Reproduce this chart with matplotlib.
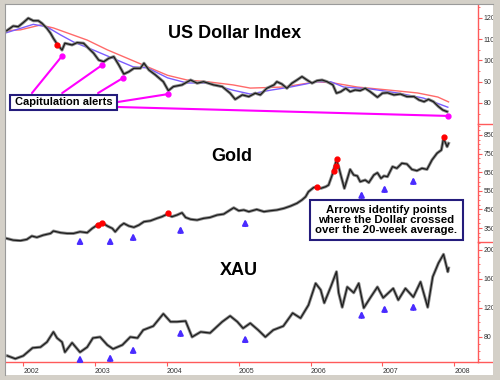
import matplotlib
matplotlib.use("Agg")
import matplotlib.pyplot as plt
from matplotlib.patches import Rectangle
from matplotlib.lines import Line2D

plt.rcParams['font.family'] = ['Liberation Sans', 'DejaVu Sans']

# US Dollar Index (x = decimal year)
usd_t = [2001.77, 2001.86, 2001.93, 2002.00, 2002.07, 2002.14, 2002.21, 2002.26, 2002.33,
         2002.38, 2002.42, 2002.48, 2002.54, 2002.58, 2002.68, 2002.75, 2002.84, 2002.91,
         2002.98, 2003.05, 2003.12, 2003.19, 2003.26, 2003.33, 2003.40, 2003.47, 2003.54,
         2003.63, 2003.68, 2003.75, 2003.84, 2003.95, 2004.02, 2004.09, 2004.21, 2004.33,
         2004.42, 2004.51, 2004.65, 2004.77, 2004.88, 2004.95, 2005.05, 2005.14, 2005.23,
         2005.30, 2005.39, 2005.49, 2005.53, 2005.60, 2005.67, 2005.74, 2005.81, 2005.88,
         2005.95, 2006.02, 2006.09, 2006.16, 2006.23, 2006.31, 2006.36, 2006.42, 2006.49,
         2006.55, 2006.62, 2006.69, 2006.76, 2006.83, 2006.93, 2007.00, 2007.07, 2007.16,
         2007.25, 2007.34, 2007.44, 2007.51, 2007.58, 2007.64, 2007.71, 2007.78, 2007.84,
         2007.90]
usd_v = [114.0, 116.2, 115.9, 117.8, 119.9, 118.7, 118.7, 117.5, 115.1,
         112.8, 110.4, 107.3, 104.9, 108.1, 107.3, 108.4, 108.1, 105.7,
         103.4, 100.2, 99.4, 101.0, 101.8, 97.9, 93.6, 94.7, 96.3,
         96.3, 98.7, 95.5, 93.2, 90.0, 85.8, 87.7, 88.5, 90.8,
         89.3, 90.0, 88.5, 87.7, 84.6, 81.7, 83.8, 83.0, 84.6,
         83.8, 86.9, 88.5, 90.0, 88.9, 86.9, 89.3, 90.8, 92.4,
         90.8, 89.3, 90.5, 90.8, 90.0, 88.5, 84.6, 85.3, 86.9,
         85.3, 86.1, 85.8, 86.9, 85.3, 82.7, 84.6, 84.8, 83.8,
         84.2, 83.0, 83.0, 81.4, 80.6, 81.7, 80.6, 78.3, 76.7,
         75.9]

# 20-week average (blue) and longer average (red)
ma20_t = [2001.76, 2002.14, 2002.33, 2002.52, 2002.70, 2002.97, 2003.25, 2003.53, 2003.73,
          2004.01, 2004.28, 2004.56, 2004.92, 2005.16, 2005.44, 2005.72, 2006.09, 2006.28,
          2006.46, 2006.83, 2007.21, 2007.57, 2007.91]
ma20_v = [113, 117, 115.8, 112, 108.7, 105, 101, 97, 96.5,
          91.8, 89.4, 89.4, 86, 84.2, 86, 87.5, 90, 90,
          87.5, 86.6, 84.7, 82.3, 78]
ma40_t = [2001.76, 2001.96, 2002.24, 2002.42, 2002.61, 2002.89, 2003.17, 2003.45, 2003.73,
          2004.01, 2004.28, 2004.56, 2004.92, 2005.16, 2005.62, 2006.09, 2006.32, 2006.65,
          2007.11, 2007.49, 2007.77, 2007.92]
ma40_v = [114, 114.4, 116.7, 115.3, 113, 109.6, 105, 101, 97,
          93, 90.8, 90, 88.5, 87, 87.5, 90, 89.4, 87.5,
          86, 84.7, 82.8, 80.5]

# capitulation alerts
alert_t = [2002.54, 2003.10, 2003.39, 2004.02, 2007.91]
alert_v = [102.1, 97.9, 91.8, 84.2, 73.9]
usd_red_t = [2002.47]
usd_red_v = [107.3]

# Gold
gold_t = [2001.77, 2001.86, 2001.96, 2002.05, 2002.12, 2002.19, 2002.28, 2002.38, 2002.42,
          2002.52, 2002.61, 2002.70, 2002.79, 2002.89, 2002.96, 2003.03, 2003.10, 2003.17,
          2003.24, 2003.28, 2003.35, 2003.40, 2003.47, 2003.54, 2003.61, 2003.68, 2003.77,
          2003.86, 2003.93, 2004.00, 2004.07, 2004.14, 2004.21, 2004.26, 2004.33, 2004.42,
          2004.51, 2004.60, 2004.70, 2004.79, 2004.88, 2004.93, 2005.00, 2005.07, 2005.14,
          2005.25, 2005.35, 2005.44, 2005.53, 2005.63, 2005.72, 2005.81, 2005.88, 2005.93,
          2005.97, 2006.04, 2006.09, 2006.14, 2006.21, 2006.25, 2006.30, 2006.32, 2006.36,
          2006.39, 2006.42, 2006.47, 2006.52, 2006.55, 2006.60, 2006.65, 2006.69, 2006.76,
          2006.81, 2006.88, 2006.93, 2006.98, 2007.02, 2007.07, 2007.14, 2007.20, 2007.27,
          2007.34, 2007.41, 2007.48, 2007.55, 2007.62, 2007.69, 2007.76, 2007.82, 2007.85,
          2007.90, 2007.92]
gold_v = [294, 285, 282, 289, 307, 300, 312, 321, 334,
          325, 321, 321, 330, 325, 348, 366, 379, 361,
          348, 330, 361, 375, 361, 354, 366, 384, 389,
          402, 411, 424, 411, 420, 432, 407, 397, 393,
          402, 407, 420, 425, 447, 459, 443, 447, 438,
          450, 438, 443, 447, 456, 468, 483, 501, 518,
          545, 567, 572, 563, 572, 581, 635, 662, 716,
          680, 635, 563, 626, 665, 635, 630, 599, 608,
          594, 635, 647, 617, 630, 626, 680, 671, 698,
          694, 665, 658, 671, 665, 716, 752, 769, 832,
          787, 805]
gold_red_t = [2003.04, 2003.10, 2004.02, 2006.09, 2006.32, 2006.35, 2006.37, 2007.85]
gold_red_v = [366, 377, 431, 570, 656, 683, 721, 839]

# dates where the dollar crossed over its 20-week average
cross_t = [2002.79, 2003.21, 2003.53, 2004.19, 2005.09, 2006.71, 2007.03, 2007.43]
gold_arrow_v = [301, 301, 323, 361, 398, 549, 581, 624]

# XAU
xau_t = [2001.78, 2001.89, 2002.00, 2002.13, 2002.24, 2002.33, 2002.42, 2002.47, 2002.54,
         2002.58, 2002.68, 2002.79, 2002.89, 2002.97, 2003.07, 2003.17, 2003.25, 2003.38,
         2003.49, 2003.59, 2003.67, 2003.81, 2003.95, 2004.05, 2004.14, 2004.26, 2004.35,
         2004.47, 2004.60, 2004.77, 2004.88, 2004.98, 2005.06, 2005.16, 2005.27, 2005.37,
         2005.48, 2005.62, 2005.75, 2005.86, 2005.97, 2006.07, 2006.14, 2006.19, 2006.28,
         2006.36, 2006.39, 2006.44, 2006.51, 2006.60, 2006.67, 2006.74, 2006.83, 2006.93,
         2007.01, 2007.15, 2007.22, 2007.32, 2007.43, 2007.53, 2007.63, 2007.70, 2007.78,
         2007.85, 2007.91, 2007.92]
xau_v = [54, 50, 54, 65, 66, 73, 87, 78.6, 73,
         59, 72, 59, 66, 78.6, 80, 69, 63.5, 69,
         80, 78.6, 89.6, 95, 112, 101, 101, 102, 80,
         87, 85.5, 101, 109, 101, 92, 99, 89.6, 80,
         89.6, 95, 113, 106, 124, 154, 145, 127, 149,
         170, 141, 121, 149, 141, 154, 120, 134, 149,
         134, 147, 131, 147, 135, 156, 121, 163, 182,
         194, 170, 175]
xau_arrow_v = [55, 56.5, 67.5, 91, 82.5, 116, 124, 127]

years = [2002, 2003, 2004, 2005, 2006, 2007, 2008]

usd_ticks = [80, 90, 100, 110, 120]
gold_ticks = [350, 450, 550, 650, 750, 850]
xau_ticks = [80, 120, 160, 200]

AXRED = '#ff5a5a'
ARROW = '#4a2cff'
MAG = '#ff00ff'
NAVY = '#241c7c'

fig = plt.figure(figsize=(5, 3.8), dpi=100)
fig.patch.set_facecolor('white')

W, H = 500.0, 380.0
def panel(top, bottom):
    return fig.add_axes([6 / W, 1 - bottom / H, 472 / W, (bottom - top) / H])

def price(ax, t, v):
    # weekly bars look: grey body with a dark core
    ax.plot(t, v, color='#8a8a8a', lw=2.2, zorder=4)
    ax.plot(t, v, color='#1c1c1c', lw=0.9, zorder=4.5)

def up_arrows(ax, t, v):
    for tt, vv in zip(t, v):
        ax.annotate('', xy=(tt, vv), xytext=(0, -5), textcoords='offset points',
                    arrowprops=dict(arrowstyle='-|>', color=ARROW, lw=1.5, mutation_scale=8,
                                    shrinkA=0, shrinkB=0))

ax1 = panel(5, 124)
ax2 = panel(124, 242)
ax3 = panel(242, 362)

for ax, lim, ticks, minor in [(ax1, (70.1, 126.1), usd_ticks, 5),
                              (ax2, (275, 909), gold_ticks, 25),
                              (ax3, (45.5, 211), xau_ticks, 10)]:
    ax.set_xlim(2001.76, 2008.33)
    ax.set_ylim(*lim)
    ax.set_facecolor('none')
    for s in ['left', 'top', 'bottom']:
        ax.spines[s].set_visible(False)
    ax.spines['right'].set_color(AXRED)
    ax.spines['right'].set_linewidth(1)
    ax.yaxis.tick_right()
    ax.set_yticks(ticks)
    ax.set_yticklabels([str(t) for t in ticks])
    ax.yaxis.set_minor_locator(matplotlib.ticker.MultipleLocator(minor))
    ax.tick_params(axis='y', which='major', colors=AXRED, length=3, width=0.8,
                   labelsize=5, labelcolor='#333333', pad=1)
    ax.tick_params(axis='y', which='minor', colors=AXRED, length=1.5, width=0.6)
    ax.set_xticks(years)
    ax.tick_params(axis='x', which='both', bottom=False, labelbottom=False)

# --- US Dollar Index ---
ax1.plot(ma40_t, ma40_v, color='#ff6a6a', lw=1.0, zorder=2)
ax1.plot(ma20_t, ma20_v, color='#7b5cff', lw=1.0, zorder=3)
price(ax1, usd_t, usd_v)
ax1.plot(usd_red_t, usd_red_v, 'o', color='red', ms=3.5, zorder=5)

box_pts = [(0.055, 0.26), (0.119, 0.26), (0.195, 0.26), (0.237, 0.185), (0.235, 0.143)]
for (bx, by), t, v in zip(box_pts, alert_t, alert_v):
    ax1.annotate('', xy=(t, v), xytext=(bx, by), textcoords='axes fraction',
                 arrowprops=dict(arrowstyle='-', color=MAG, lw=1.5, shrinkA=0, shrinkB=0),
                 zorder=6)
ax1.plot(alert_t, alert_v, 'o', color=MAG, ms=3.5, zorder=7)
ax1.add_patch(Rectangle((0.0085, 0.118), 0.2265, 0.126, transform=ax1.transAxes,
                        facecolor='white', edgecolor=NAVY, lw=1.5, zorder=8))
ax1.text(0.122, 0.181, 'Capitulation alerts', transform=ax1.transAxes, ha='center',
         va='center', fontsize=8, fontweight='bold', color='black', zorder=9)

# --- Gold ---
price(ax2, gold_t, gold_v)
ax2.plot(gold_red_t, gold_red_v, 'o', color='red', ms=3.5, zorder=5)
up_arrows(ax2, cross_t, gold_arrow_v)
ax2.add_patch(Rectangle((0.644, 0.017), 0.324, 0.339, transform=ax2.transAxes,
                        facecolor='white', edgecolor=NAVY, lw=1.5, zorder=8))
ax2.text(0.806, 0.186, 'Arrows identify points\nwhere the Dollar crossed\nover the 20-week average.',
         transform=ax2.transAxes, ha='center', va='center', fontsize=8.2,
         fontweight='bold', linespacing=0.95, zorder=9)

# --- XAU ---
price(ax3, xau_t, xau_v)
up_arrows(ax3, cross_t, xau_arrow_v)
ax3.spines['bottom'].set_visible(True)
ax3.spines['bottom'].set_color(AXRED)
ax3.spines['bottom'].set_linewidth(1)
ax3.set_xticklabels([str(y) for y in years])
ax3.tick_params(axis='x', which='both', bottom=True, labelbottom=True, colors=AXRED,
                length=3, width=0.8, labelsize=5, labelcolor='#333333', pad=1)
for lab in ax3.get_xticklabels():
    lab.set_horizontalalignment('left')

# panel titles
fig.text(0.47, 0.913, 'US Dollar Index', ha='center', va='center', fontsize=13, fontweight='bold')
fig.text(0.464, 0.589, 'Gold', ha='center', va='center', fontsize=13, fontweight='bold')
fig.text(0.478, 0.289, 'XAU', ha='center', va='center', fontsize=13, fontweight='bold')

# short separators right of the price axis and bottom extension
for yy in (124, 242, 362):
    fig.add_artist(Line2D([478 / W, 493 / W], [1 - yy / H] * 2, color=AXRED, lw=1))

# grey window frame
GREY = '#d4d0c8'
for x0, y0, w, h in [(0, 0, 5, 380), (493, 0, 7, 380), (0, 0, 500, 4), (0, 375, 500, 5)]:
    fig.add_artist(Rectangle((x0 / W, 1 - (y0 + h) / H), w / W, h / H,
                             transform=fig.transFigure, facecolor=GREY, edgecolor='none',
                             zorder=20))
fig.add_artist(Line2D([5 / W, 5 / W], [1 - 375 / H, 1 - 4 / H], color='#9a9a9a', lw=0.8, zorder=21))
fig.add_artist(Line2D([5 / W, 493 / W], [1 - 4 / H] * 2, color='#9a9a9a', lw=0.8, zorder=21))

fig.savefig('out.png', dpi=100)
